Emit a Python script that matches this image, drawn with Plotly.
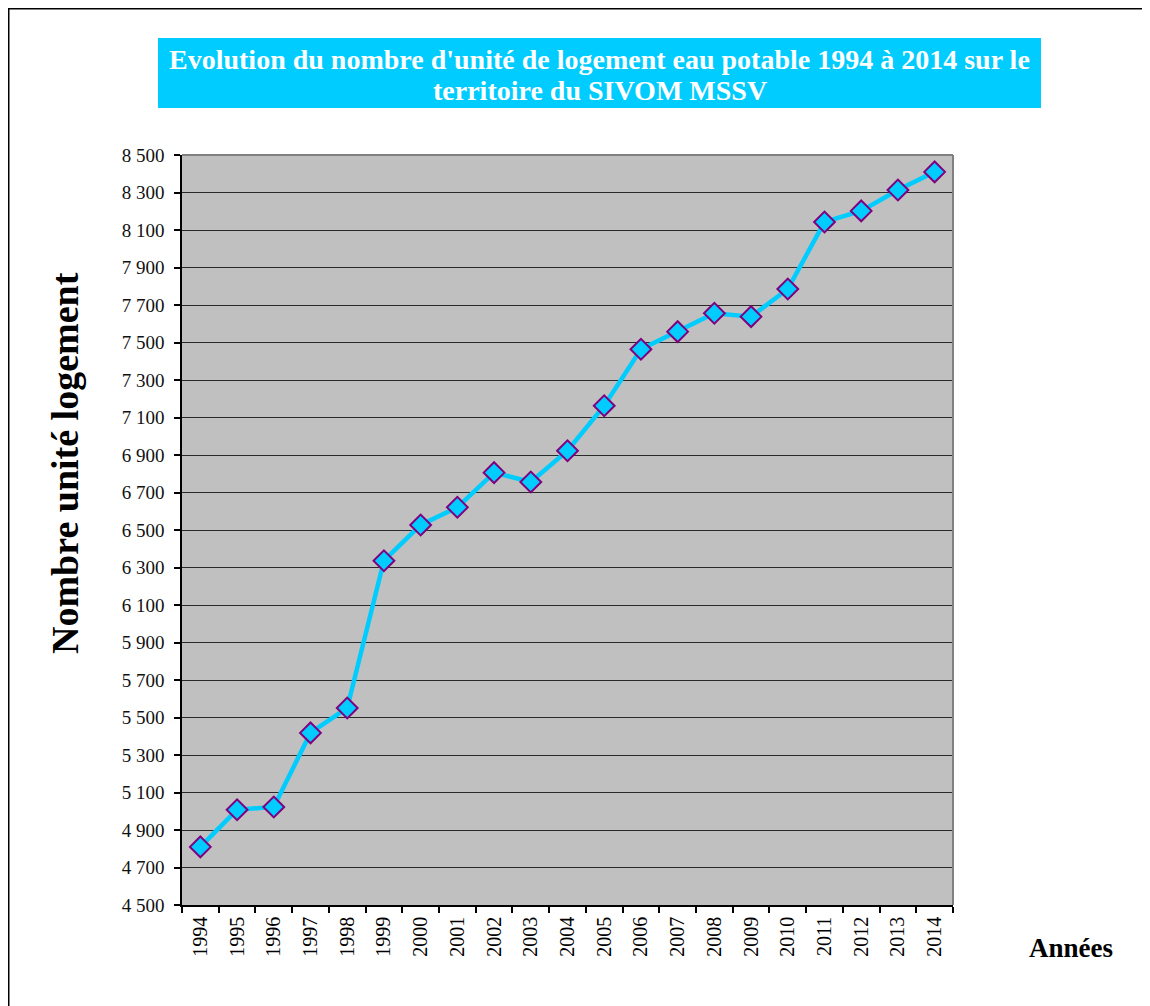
import plotly.graph_objects as go

years = [str(y) for y in range(1994, 2015)]
logements = [4810, 5008, 5023, 5418, 5551, 6336, 6527, 6621, 6806, 6756, 6923,
             7163, 7464, 7558, 7656, 7638, 7785, 8143, 8202, 8313, 8410]
y_ticks = list(range(4500, 8501, 200))

# page has an 8px body margin: figure origin sits at page (8, 8)
OFF = 8
W, H = 1150 - OFF, 1006 - OFF
# plot area in page coordinates
L, R, T, B = 182, 953, 155, 905

def px(x):
    return (x - L) / (R - L)

def py(y):
    return (B - y) / (B - T)

fig = go.Figure()
fig.add_trace(go.Scatter(
    x=years, y=logements, mode="lines+markers",
    line=dict(color="#00CCFF", width=4.5),
    marker=dict(symbol="diamond", size=16, color="#00CCFF",
                line=dict(color="#800080", width=2)),
    hoverinfo="x+y", showlegend=False,
))

serif = "Liberation Serif, Times New Roman, serif"

fig.update_layout(
    width=W, height=H,
    margin=dict(l=L - OFF, r=1150 - R, t=T - OFF, b=1006 - B),
    paper_bgcolor="white", plot_bgcolor="#C0C0C0",
    separators=", ",
    font=dict(family=serif, color="black"),
    xaxis=dict(
        type="category", tickson="boundaries", ticks="outside", ticklen=6,
        tickcolor="black", tickwidth=1.5, tickangle=-90,
        tickfont=dict(family=serif, size=20, color="black"),
        ticklabelstandoff=2,
        showgrid=False, showline=True, linecolor="black", linewidth=1.5,
        range=[-0.5, len(years) - 0.5], fixedrange=True,
    ),
    yaxis=dict(
        range=[4500, 8500], tickvals=y_ticks, tickformat=",d",
        ticks="outside", ticklen=6, tickcolor="black", tickwidth=1.5,
        tickfont=dict(family=serif, size=19, color="#111111"),
        ticklabelstandoff=6,
        showgrid=True, gridcolor="#2a2a2a", gridwidth=1.2,
        showline=True, linecolor="black", linewidth=1.5,
        zeroline=False, fixedrange=True,
    ),
)

# gray border right/top of plot area
fig.add_shape(type="line", xref="paper", yref="paper", x0=1, x1=1, y0=0, y1=1,
              line=dict(color="#808080", width=2))
fig.add_shape(type="line", xref="paper", yref="paper", x0=0, x1=1, y0=1, y1=1,
              line=dict(color="#808080", width=2))

# outer figure border (top and left edges visible)
fig.add_shape(type="rect", xref="paper", yref="paper",
              x0=px(OFF + 0.75), x1=px(1170), y0=py(1030), y1=py(OFF + 0.75),
              line=dict(color="black", width=1.5), layer="below")

# title box
fig.add_shape(type="rect", xref="paper", yref="paper",
              x0=px(158), x1=px(1041), y0=py(108), y1=py(38),
              fillcolor="#00CCFF", line=dict(width=0))
title_lines = ["Evolution du nombre d'unité de logement eau potable 1994 à 2014 sur le",
               "territoire du SIVOM MSSV"]
for line, yc in zip(title_lines, [59, 90]):
    fig.add_annotation(
        xref="paper", yref="paper", x=px(599.5), y=py(yc),
        text=line, showarrow=False, xanchor="center", yanchor="middle",
        font=dict(family=serif, size=28, color="white", weight="bold"),
    )

# y axis title
fig.add_annotation(
    xref="paper", yref="paper", x=px(65), y=py(463),
    text="Nombre unité logement", textangle=-90, showarrow=False,
    xanchor="center", yanchor="middle",
    font=dict(family=serif, size=38, color="black", weight="bold"),
)

# x axis title
fig.add_annotation(
    xref="paper", yref="paper", x=px(1071), y=py(948),
    text="Années", showarrow=False, xanchor="center", yanchor="middle",
    font=dict(family=serif, size=27, color="black", weight="bold"),
)

fig.write_html("out.html")
